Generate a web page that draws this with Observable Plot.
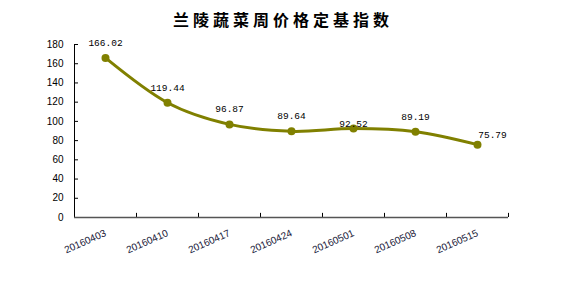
<!DOCTYPE html>
<html><head><meta charset="utf-8">
<script src="https://cdn.jsdelivr.net/npm/d3@7"></script>
<script src="https://cdn.jsdelivr.net/npm/@observablehq/plot@0.6"></script>
<style>
body{margin:0;background:#fff;width:562px;height:282px;overflow:hidden;position:relative}
#title{position:absolute;top:0;left:0;width:562px;text-align:center;font-family:"Noto Sans CJK SC",sans-serif;font-weight:700;font-size:16px;letter-spacing:4px;padding-left:4px;box-sizing:border-box;line-height:38px;color:#000}
#chart{position:absolute;top:0;left:0}
</style></head><body>
<div id="title">兰陵蔬菜周价格定基指数</div>
<div id="chart"></div>
<script>
const dates = ["20160403","20160410","20160417","20160424","20160501","20160508","20160515"];
const values = [166.02,119.44,96.87,89.64,92.52,89.19,75.79];
const labels = ["166.02","119.44","96.87","89.64","92.52","89.19","75.79"];
const yTicks = [0,20,40,60,80,100,120,140,160,180];

const data = dates.map((d,i)=>({date:d, value:values[i], label:labels[i], i}));
const color = "#808000";
const normal = data.filter(d => d.i !== 4 && d.i !== 6);

const chart = Plot.plot({
  width: 562, height: 282,
  marginLeft: 74, marginRight: 54, marginTop: 44, marginBottom: 65,
  style: {fontFamily: "'Liberation Sans', Arial, sans-serif", fontSize: "10px", color: "#000", background: "transparent"},
  x: {domain: dates, padding: 0, label: null},
  y: {domain: [0,180], label: null},
  marks: [
    Plot.axisY({ticks: yTicks, tickSize: 0, tickPadding: 11, fontSize: 10, label: null}),
    Plot.tickY(yTicks.filter(t=>t>0), {y: d=>d, x: ()=>dates[0], insetRight: 58, stroke: "#000"}),
    Plot.frame({anchor: "left", stroke: "#000"}),
    Plot.axisX({tickSize: 0, tickRotate: -24, tickPadding: 15, fontSize: 10, label: null, fill: "#1a1a3a"}),
    Plot.ruleX(dates, {x: d=>d, dx: -31, y1: 0, y2: 4.3, stroke: "#000"}),
    Plot.ruleX([dates[dates.length-1]], {x: d=>d, dx: 31, y1: 0, y2: 4.3, stroke: "#000"}),
    Plot.ruleY([0], {stroke: "#555", strokeWidth: 1.5}),
    Plot.line(data, {x: "date", y: "value", curve: "cardinal", stroke: color, strokeWidth: 3}),
    Plot.dot(data, {x: "date", y: "value", r: 4, fill: color}),
    Plot.text(normal, {x: "date", y: "value", text: "label", dy: -15, fontFamily: "'Liberation Mono', monospace", fontSize: 9.5, fill: "#000"}),
    Plot.text(data.filter(d=>d.i===4), {x: "date", y: "value", text: "label", dy: -5, fontFamily: "'Liberation Mono', monospace", fontSize: 9.5, fill: "#000"}),
    Plot.text(data.filter(d=>d.i===6), {x: "date", y: "value", text: "label", dx: 15, dy: -10, fontFamily: "'Liberation Mono', monospace", fontSize: 9.5, fill: "#000"})
  ]
});
document.getElementById("chart").appendChild(chart);
</script>
</body></html>
